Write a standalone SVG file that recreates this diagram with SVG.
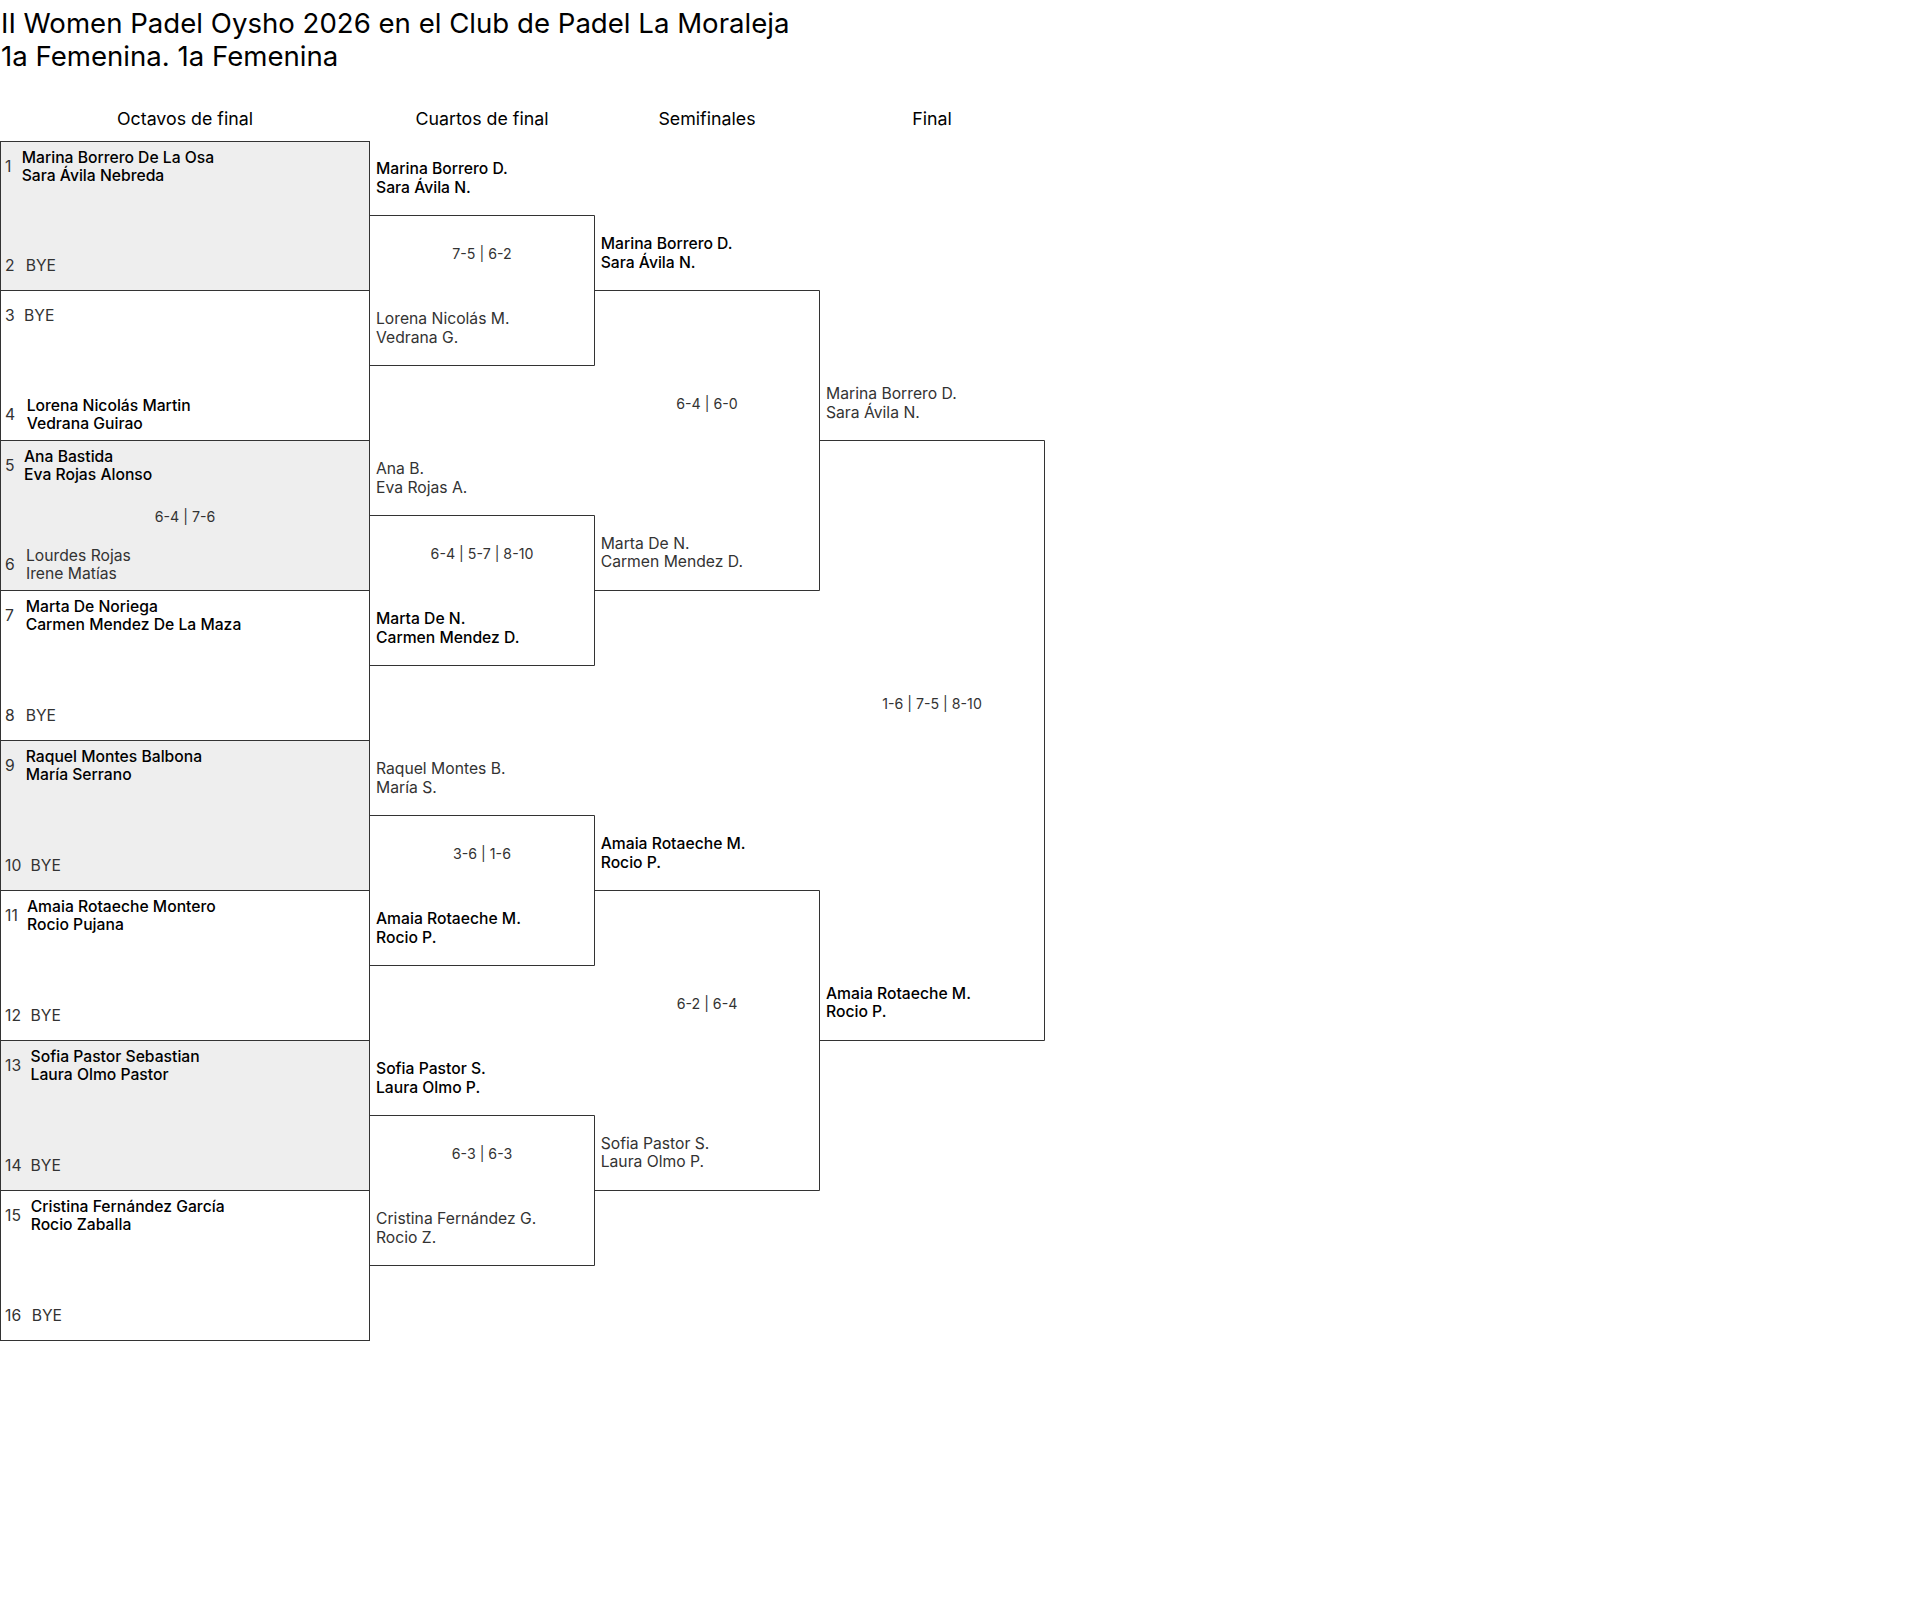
<svg xmlns="http://www.w3.org/2000/svg" width="1920" height="1624" viewBox="0 0 1920 1624">
<style>
text{font-family:Inter,"DejaVu Sans",sans-serif}
.title{font-size:27.6px;fill:#000}
.hdr{font-size:17.8px;fill:#000;text-anchor:middle}
.w{font-size:15.7px;font-weight:500;fill:#000}
.l{font-size:15.7px;font-weight:400;fill:#333}
.sd{font-size:15.7px;font-weight:400;fill:#333}
.sc{font-size:14.2px;font-weight:400;fill:#333;text-anchor:middle}
.box{stroke:#333;stroke-width:1}
.g{fill:#eeeeee}
.wh{fill:#ffffff}
.br{fill:none;stroke:#333;stroke-width:1}
</style>
<rect x="0" y="0" width="1920" height="1624" fill="#fff"/>
<g id="title">
<text class="title" x="1" y="33">II Women Padel Oysho 2026 en el Club de Padel La Moraleja</text>
<text class="title" x="1" y="66">1a Femenina. 1a Femenina</text>
</g>
<g id="headers">
<text class="hdr" x="185" y="125">Octavos de final</text>
<text class="hdr" x="482" y="125">Cuartos de final</text>
<text class="hdr" x="707" y="125">Semifinales</text>
<text class="hdr" x="932" y="125">Final</text>
</g>
<g id="connectors">
<path class="br" d="M369.5 215.5H594.5V365.5H369.5"/>
<path class="br" d="M369.5 515.5H594.5V665.5H369.5"/>
<path class="br" d="M369.5 815.5H594.5V965.5H369.5"/>
<path class="br" d="M369.5 1115.5H594.5V1265.5H369.5"/>
<path class="br" d="M594.5 290.5H819.5V590.5H594.5"/>
<path class="br" d="M594.5 890.5H819.5V1190.5H594.5"/>
<path class="br" d="M819.5 440.5H1044.5V1040.5H819.5"/>
</g>
<g id="r16-1">
<rect class="box g" x="0.5" y="141.5" width="369" height="149"/>
<text class="sd" x="5" y="172">1</text>
<text class="w" x="21.7" y="163">Marina Borrero De La Osa</text>
<text class="w" x="21.7" y="181.3">Sara Ávila Nebreda</text>
<text class="sd" x="5" y="270.5">2</text>
<text class="l" x="25.7" y="270.5">BYE</text>
</g>
<g id="r16-2">
<rect class="box wh" x="0.5" y="290.5" width="369" height="150"/>
<text class="sd" x="5" y="320.5">3</text>
<text class="l" x="24" y="320.5">BYE</text>
<text class="sd" x="5" y="420">4</text>
<text class="w" x="26.7" y="410.8">Lorena Nicolás Martin</text>
<text class="w" x="26.7" y="429.1">Vedrana Guirao</text>
</g>
<g id="r16-3">
<rect class="box g" x="0.5" y="440.5" width="369" height="150"/>
<text class="sd" x="5" y="471">5</text>
<text class="w" x="24" y="461.8">Ana Bastida</text>
<text class="w" x="24" y="480.1">Eva Rojas Alonso</text>
<text class="sc" x="185" y="521.5">6-4 | 7-6</text>
<text class="sd" x="5" y="570">6</text>
<text class="l" x="26" y="560.8">Lourdes Rojas</text>
<text class="l" x="26" y="579.1">Irene Matías</text>
</g>
<g id="r16-4">
<rect class="box wh" x="0.5" y="590.5" width="369" height="150"/>
<text class="sd" x="5" y="621">7</text>
<text class="w" x="25.7" y="611.8">Marta De Noriega</text>
<text class="w" x="25.7" y="630.1">Carmen Mendez De La Maza</text>
<text class="sd" x="5" y="720.5">8</text>
<text class="l" x="25.7" y="720.5">BYE</text>
</g>
<g id="r16-5">
<rect class="box g" x="0.5" y="740.5" width="369" height="150"/>
<text class="sd" x="5" y="771">9</text>
<text class="w" x="25.7" y="761.8">Raquel Montes Balbona</text>
<text class="w" x="25.7" y="780.1">María Serrano</text>
<text class="sd" x="5" y="870.5">10</text>
<text class="l" x="30.6" y="870.5">BYE</text>
</g>
<g id="r16-6">
<rect class="box wh" x="0.5" y="890.5" width="369" height="150"/>
<text class="sd" x="5" y="921">11</text>
<text class="w" x="27" y="911.8">Amaia Rotaeche Montero</text>
<text class="w" x="27" y="930.1">Rocio Pujana</text>
<text class="sd" x="5" y="1020.5">12</text>
<text class="l" x="30.6" y="1020.5">BYE</text>
</g>
<g id="r16-7">
<rect class="box g" x="0.5" y="1040.5" width="369" height="150"/>
<text class="sd" x="5" y="1071">13</text>
<text class="w" x="30.6" y="1061.8">Sofia Pastor Sebastian</text>
<text class="w" x="30.6" y="1080.1">Laura Olmo Pastor</text>
<text class="sd" x="5" y="1170.5">14</text>
<text class="l" x="30.6" y="1170.5">BYE</text>
</g>
<g id="r16-8">
<rect class="box wh" x="0.5" y="1190.5" width="369" height="150"/>
<text class="sd" x="5" y="1221">15</text>
<text class="w" x="30.7" y="1211.8">Cristina Fernández García</text>
<text class="w" x="30.7" y="1230.1">Rocio Zaballa</text>
<text class="sd" x="5" y="1320.5">16</text>
<text class="l" x="31.7" y="1320.5">BYE</text>
</g>
<g id="qf-1">
<text class="w" x="376" y="174">Marina Borrero D.</text>
<text class="w" x="376" y="192.5">Sara Ávila N.</text>
<text class="sc" x="482" y="259">7-5 | 6-2</text>
<text class="l" x="376" y="324.2">Lorena Nicolás M.</text>
<text class="l" x="376" y="342.7">Vedrana G.</text>
</g>
<g id="qf-2">
<text class="l" x="376" y="474">Ana B.</text>
<text class="l" x="376" y="492.5">Eva Rojas A.</text>
<text class="sc" x="482" y="559">6-4 | 5-7 | 8-10</text>
<text class="w" x="376" y="624.2">Marta De N.</text>
<text class="w" x="376" y="642.7">Carmen Mendez D.</text>
</g>
<g id="qf-3">
<text class="l" x="376" y="774">Raquel Montes B.</text>
<text class="l" x="376" y="792.5">María S.</text>
<text class="sc" x="482" y="859">3-6 | 1-6</text>
<text class="w" x="376" y="924.2">Amaia Rotaeche M.</text>
<text class="w" x="376" y="942.7">Rocio P.</text>
</g>
<g id="qf-4">
<text class="w" x="376" y="1074">Sofia Pastor S.</text>
<text class="w" x="376" y="1092.5">Laura Olmo P.</text>
<text class="sc" x="482" y="1159">6-3 | 6-3</text>
<text class="l" x="376" y="1224.2">Cristina Fernández G.</text>
<text class="l" x="376" y="1242.7">Rocio Z.</text>
</g>
<g id="sf-1">
<text class="w" x="600.7" y="249">Marina Borrero D.</text>
<text class="w" x="600.7" y="267.7">Sara Ávila N.</text>
<text class="sc" x="707" y="409">6-4 | 6-0</text>
<text class="l" x="600.7" y="548.7">Marta De N.</text>
<text class="l" x="600.7" y="567.4">Carmen Mendez D.</text>
</g>
<g id="sf-2">
<text class="w" x="600.7" y="849">Amaia Rotaeche M.</text>
<text class="w" x="600.7" y="867.7">Rocio P.</text>
<text class="sc" x="707" y="1009">6-2 | 6-4</text>
<text class="l" x="600.7" y="1148.7">Sofia Pastor S.</text>
<text class="l" x="600.7" y="1167.4">Laura Olmo P.</text>
</g>
<g id="final">
<text class="l" x="826" y="399">Marina Borrero D.</text>
<text class="l" x="826" y="417.7">Sara Ávila N.</text>
<text class="sc" x="932" y="709">1-6 | 7-5 | 8-10</text>
<text class="w" x="826" y="998.7">Amaia Rotaeche M.</text>
<text class="w" x="826" y="1017.4">Rocio P.</text>
</g>
</svg>
